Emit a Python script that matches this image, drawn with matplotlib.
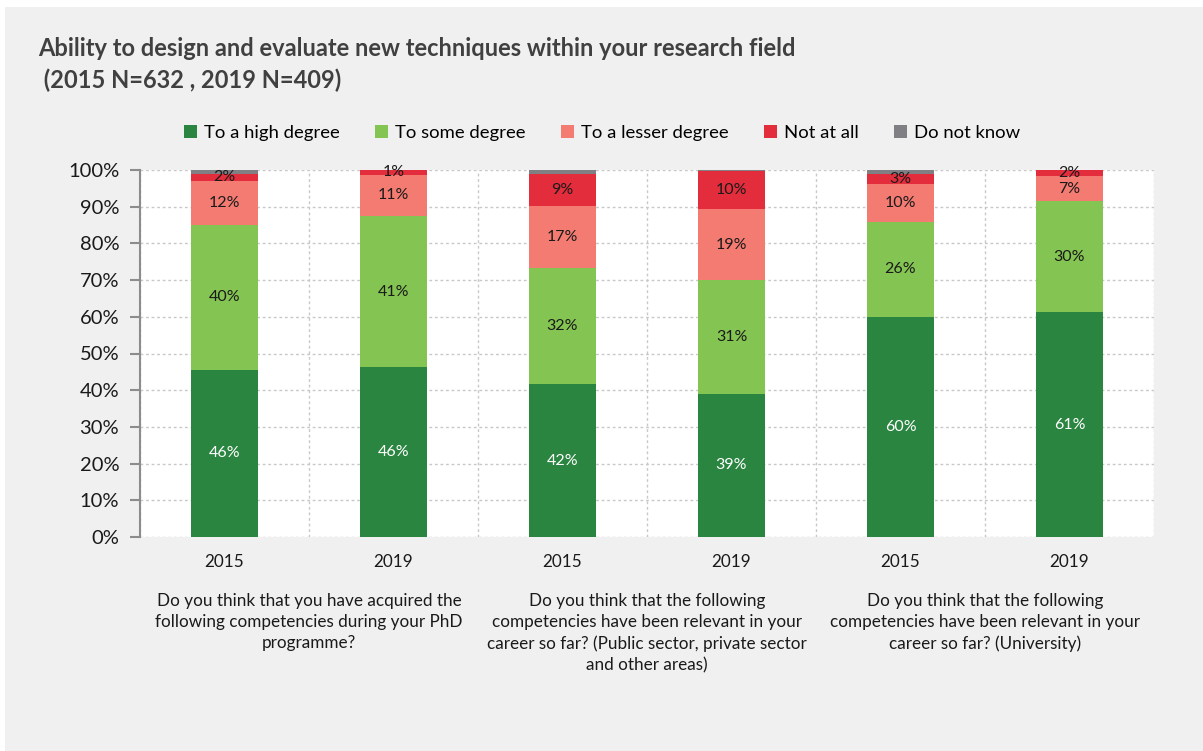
import matplotlib
matplotlib.use("Agg")
import matplotlib.pyplot as plt
from matplotlib.patches import Rectangle
from matplotlib.ticker import PercentFormatter
import matplotlib.transforms as mtransforms
import numpy as np

plt.rcParams["font.family"] = ["Lato", "DejaVu Sans"]

TITLE = "Ability to design and evaluate new techniques within your research field\n (2015 N=632 , 2019 N=409)"
years = ["2015", "2019", "2015", "2019", "2015", "2019"]
groups = [
    "Do you think that you have acquired the\nfollowing competencies during your PhD\nprogramme?",
    "Do you think that the following\ncompetencies have been relevant in your\ncareer so far? (Public sector, private sector\nand other areas)",
    "Do you think that the following\ncompetencies have been relevant in your\ncareer so far? (University)",
]
series = ["To a high degree", "To some degree", "To a lesser degree", "Not at all", "Do not know"]
high = [45.6, 46.2, 41.6, 39.1, 60.0, 61.2]
some = [39.5, 41.3, 31.8, 30.9, 25.8, 30.3]
lesser = [11.9, 11.2, 16.8, 19.4, 10.4, 6.9]
not_at_all = [2.0, 1.3, 8.8, 10.3, 2.8, 1.6]
dont_know = [1.0, 0.0, 1.0, 0.3, 1.0, 0.0]

colors = ["#2a8540", "#84c452", "#f47b72", "#e32d3c", "#7f7f84"]
label_colors = ["white", "#1a1a1a", "#1a1a1a", "#1a1a1a", None]

fig = plt.figure(figsize=(12.03, 7.51), dpi=100, facecolor="white")
fig.patches.append(Rectangle((5 / 1203, 0), 1, 1 - 7 / 751, transform=fig.transFigure,
                             facecolor="#f0f0f0", edgecolor="none", zorder=-10))
ax = fig.add_axes([140 / 1203, 214 / 751, 1014 / 1203, 367 / 751])
ax.set_facecolor("white")

x = np.arange(len(years))
bottom = np.zeros(len(years))
for name, vals, col, lcol in zip(series, [high, some, lesser, not_at_all, dont_know], colors, label_colors):
    vals = np.array(vals)
    ax.bar(x, vals, 0.4, bottom=bottom, color=col, label=name, zorder=3)
    if lcol:
        for xi, b, v in zip(x, bottom, vals):
            if v >= 0.5:
                ax.text(xi, b + v / 2, f"{v:.0f}%", ha="center", va="center",
                        fontsize=11.5, color=lcol, zorder=4)
    bottom += vals

ax.set_xlim(-0.5, len(years) - 0.5)
ax.set_ylim(0, 100)
ax.set_yticks(np.arange(0, 101, 10))
ax.yaxis.set_major_formatter(PercentFormatter(decimals=0))
ax.set_xticks(x)
ax.set_xticklabels(years)
ax.tick_params(axis="x", length=0, labelsize=12.3, pad=12, colors="#1a1a1a")
ax.tick_params(axis="y", length=7, width=1.5, color="#8c8c8c", labelsize=14.5, pad=8, labelcolor="#1a1a1a")

ax.set_xticks(np.arange(-0.5, len(years), 1), minor=True)
ax.tick_params(axis="x", which="minor", length=0)
ax.grid(axis="y", color="#c8c8c8", linestyle=(0, (2, 2)), linewidth=1, zorder=0)
ax.grid(axis="x", which="minor", color="#c8c8c8", linestyle=(0, (2, 2)), linewidth=1, zorder=0)
ax.grid(axis="x", which="major", visible=False)
for s in ["top", "right", "bottom"]:
    ax.spines[s].set_visible(False)
ax.spines["left"].set_color("#8c8c8c")
ax.spines["left"].set_linewidth(1.5)

trans = mtransforms.blended_transform_factory(ax.transData, fig.transFigure)
for i, g in enumerate(groups):
    ax.text(2 * i + 0.5, 1 - 593 / 751, g, transform=trans, ha="center", va="top",
            fontsize=12.3, color="#1a1a1a", linespacing=1.4)

fig.text(38 / 1203, 1 - 37 / 751, TITLE, ha="left", va="top", fontsize=17,
         fontweight="bold", color="#404040", linespacing=1.45)

ax.legend(loc="center", bbox_to_anchor=(602 / 1203, 1 - 133 / 751), bbox_transform=fig.transFigure,
          ncol=5, frameon=False, fontsize=13.3, handlelength=0.7, handleheight=0.7,
          handletextpad=0.4, columnspacing=1.9)

fig.savefig("out.png", dpi=100, facecolor=fig.get_facecolor())
